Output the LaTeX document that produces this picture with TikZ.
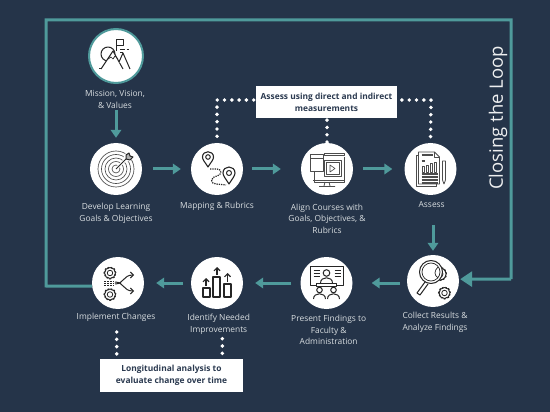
\documentclass[tikz,border=0pt]{standalone}
\usepackage{fontspec}
\setmainfont{Open Sans}
\usetikzlibrary{arrows.meta}
\definecolor{navy}{HTML}{253449}
\definecolor{loopteal}{HTML}{4F9A9B}
\definecolor{labelgrey}{HTML}{D8DDE0}
\definecolor{boxtext}{HTML}{2B3A50}
\tikzset{
    circ/.style={circle,fill=white,minimum size=52pt,inner sep=0pt},
    steptext/.style={align=center,text=labelgrey,font=\fontsize{8.4}{11.7}\selectfont},
    notebox/.style={fill=white,text=boxtext,align=center,inner sep=0pt,minimum height=32.5pt,font=\bfseries\fontsize{8.4}{11.7}\selectfont},
    tealarrow/.style={-{Triangle[length=8pt,width=10.5pt]},draw=loopteal,line width=3pt},
    loopline/.style={draw=loopteal,line width=3pt},
    dotline/.style={draw=white,line width=3.9pt,line cap=round,dash pattern=on 0pt off 7.3pt},
    icon/.style={draw=black!85,line width=1pt,line join=round},
    thinicon/.style={draw=black!70,line width=.65pt,line join=round}
}
\newcommand{\gearmark}[3]{
    \draw[black!85,line width=2pt,dash pattern=on 1.6pt off 1.5pt] (#1,#2) circle (#3pt);
    \draw[icon,fill=white] (#1,#2) circle (#3pt);
    \draw[icon,line width=.8pt] (#1,#2) circle (#3pt*.5);
}
\begin{document}
\begin{tikzpicture}[x=1pt,y=-1pt]
    \fill[navy] (0,0) rectangle (550,412);
    \useasboundingbox (0,0) rectangle (550,412);

    \draw node (mission) at (116,56) [circ,minimum size=54pt,draw=loopteal,line width=2pt] {};
    \draw node (develop) at (116,169) [circ] {};
    \draw node (mapping) at (217,169) [circ] {};
    \draw node (align) at (327,169) [circ] {};
    \draw node (assess) at (430.5,169) [circ] {};
    \draw node (collect) at (433,281) [circ] {};
    \draw node (present) at (326.5,283) [circ] {};
    \draw node (identify) at (217,283) [circ] {};
    \draw node (implement) at (118,283) [circ] {};

    \draw node (missiontext) at (115,99.5) [steptext] {Mission, Vision,\\\& Values};
    \draw node (developtext) at (116,213) [steptext] {Develop Learning\\Goals \& Objectives};
    \draw node (mappingtext) at (217,206) [steptext] {Mapping \& Rubrics};
    \draw node (aligntext) at (327,218.7) [steptext] {Align Courses with\\Goals, Objectives, \&\\Rubrics};
    \draw node (assesstext) at (431.7,204.5) [steptext] {Assess};
    \draw node (collecttext) at (435,322) [steptext] {Collect Results \&\\Analyze Findings};
    \draw node (presenttext) at (328.7,330) [steptext] {Present Findings to\\Faculty \&\\Administration};
    \draw node (identifytext) at (218.7,324) [steptext] {Identify Needed\\Improvements};
    \draw node (implementtext) at (116,317.7) [steptext] {Implement Changes};

    \draw node (measurebox) at (326.5,102.2) [notebox,minimum width=141pt] {Assess using direct and indirect\\measurements};
    \draw node (longbox) at (171.5,375.6) [notebox,minimum width=143pt] {Longitudinal analysis to\\evaluate change over time};

    \coordinate (loopa) at (46,286);
    \coordinate (loopb) at (46,20);
    \coordinate (loopc) at (511,20);
    \coordinate (loopd) at (511,279);
    \coordinate (dotleft) at (217,100);
    \coordinate (dotright) at (431,100);
    \coordinate (dotimplement) at (116.7,332);
    \coordinate (dotidentify) at (222.3,338.7);

    \draw[loopline,line join=miter] (implement.187) -- (loopa) -- (loopb) -- (loopc) -- (loopd);
    \draw[-{Triangle[length=12pt,width=15pt]},draw=loopteal,line width=3pt,shorten >=1pt] (loopd) -- (collect.4);

    \draw node (closing) at (498,118) [rotate=90,text=white!92!navy,font=\fontsize{18.5}{20}\selectfont] {Closing the Loop};

    \draw[tealarrow,shorten <=26pt,shorten >=5pt] (mission.south) to (develop.north);
    \draw[tealarrow,shorten <=11pt,shorten >=10pt] (develop.east) to (mapping.west);
    \draw[tealarrow,shorten <=9pt,shorten >=20pt] (mapping.east) to (align.west);
    \draw[tealarrow,shorten <=10pt,shorten >=12pt] (align.east) to (assess.west);
    \draw[tealarrow,shorten <=14pt,shorten >=4pt] (assesstext.south -| collect.north) to (collect.north);
    \draw[tealarrow,shorten <=7pt,shorten >=19pt] (collect.west |- present.east) to (present.east);
    \draw[tealarrow,shorten <=9pt,shorten >=12pt] (present.west) to (identify.east);
    \draw[tealarrow,shorten <=8pt,shorten >=12pt] (identify.west) to (implement.east);

    \draw[dotline,shorten <=6.5pt] (mapping.north) -- (dotleft) -- (measurebox.west |- dotleft);
    \draw[dotline,shorten <=1.5pt] (measurebox.south -| align.north) -- (align.north);
    \draw[dotline,shorten <=4.7pt] (measurebox.east |- dotright) -- (dotright) -- (assess.north);
    \draw[dotline] (dotimplement) -- (dotimplement |- longbox.north);
    \draw[dotline] (dotidentify) -- (dotidentify |- longbox.north);

    % mission icon
    \begin{scope}[shift={(mission)}]
        \draw[icon] (-17,13) -- (15,13);
        \draw[icon] (-8,-2) circle (7pt);
        \fill[white] (-12,13) -- (-3,-4) -- (4,8) -- (8,-3) -- (15,13) -- cycle;
        \draw[icon,fill=white] (-15,13) -- (-3,-5) -- (7,13);
        \draw[icon,fill=white] (3,6) -- (7,-3) -- (14,13);
        \draw[icon,line width=.7pt] (-8,3) -- (-5,1) -- (-3,3) -- (-1,0) -- (2,3);
        \draw[icon] (0,-5) -- (0,-16) -- (7,-16) -- (7,-10) -- (0,-10);
        \draw[icon,line width=.7pt] (4,-7) -- (9,-7) (10.5,-7) -- (13,-7) (4,-4) -- (7,-4);
    \end{scope}

    % target icon
    \begin{scope}[shift={(develop)}]
        \foreach \ringsize in {18,14.5,11,7.5,4}
            \draw[thinicon] (0,0) circle (\ringsize pt);
        \draw[white,line width=3pt] (1,-1) -- (13,-13);
        \fill[white] (12,-12) circle (4.5pt);
        \draw[icon] (0,0) -- (10,-10);
        \draw[icon,fill=black!30] (10,-10) -- (10,-14) -- (13,-16) -- (14,-13) -- (17,-12) -- (14,-9) -- cycle;
    \end{scope}

    % mapping icon
    \begin{scope}[shift={(mapping)}]
        \draw[icon,line width=1.1pt] (-9,-2) .. controls (-12,-7) and (-14.5,-9) .. (-14.5,-12) .. controls (-14.5,-19) and (-3.5,-19) .. (-3.5,-12) .. controls (-3.5,-9) and (-6,-7) .. (-9,-2) -- cycle;
        \draw[icon] (-9,-12) circle (2.3pt);
        \draw[icon,line width=1.1pt] (12,15) .. controls (9,10) and (6,7) .. (6,4) .. controls (6,-4) and (18,-4) .. (18,4) .. controls (18,7) and (15,10) .. (12,15) -- cycle;
        \draw[icon] (12,4) circle (2.5pt);
        \draw[icon,line width=1.2pt,dash pattern=on 1.3pt off 1pt] (-7,0) -- (0,0) .. controls (5,0) and (5,6) .. (0,7) .. controls (-7,8) and (-7,15) .. (-1,15) -- (9,16);
    \end{scope}

    % align icon
    \begin{scope}[shift={(align)}]
        \draw[thinicon,line width=.8pt] (-13,2) -- (-13,13) -- (17,13) -- (17,-12);
        \draw[thinicon,line width=.8pt] (-14,11) -- (17,11);
        \draw[thinicon,line width=.8pt] (-17,-15) rectangle (-4,2);
        \draw[thinicon,line width=.8pt] (-17,-11) -- (-4,-11);
        \draw[thinicon,line width=.8pt] (-3,-16) rectangle (17,-14);
        \draw[thinicon,line width=.8pt] (-3,-9) rectangle (14,7);
        \draw[thinicon,line width=.8pt] (-1,-7) rectangle (12,5);
        \draw[thinicon] (3,-4) -- (3,3) -- (8,-.5) -- cycle;
        \draw[thinicon,line width=.8pt] (-2,13) -- (-3,17) (2,13) -- (3,17) (-8,17.5) -- (8,17.5);
    \end{scope}

    % assess icon
    \begin{scope}[shift={(assess)}]
        \draw[thinicon,line width=.8pt] (-12,-14) -- (-14,-14) -- (-14,17) -- (6,17) -- (6,15);
        \draw[thinicon,line width=.8pt,fill=white] (-12,-17) -- (4,-17) -- (9,-12) -- (9,15) -- (-12,15) -- cycle;
        \draw[thinicon] (4,-17) -- (4,-12) -- (9,-12);
        \draw[thinicon,line width=1.2pt] (-9,-14) -- (2,-14) (-9,-8) -- (-6,-8);
        \foreach \barx/\bartop in {-7/-3,-3/-4,1/-6,5/-7}
            \draw[thinicon,line width=.8pt] (\barx-1.3,\bartop) rectangle (\barx+1.3,3);
        \foreach \liney in {5,8,11,14}
            \draw[thinicon,line width=1.2pt] (-9,\liney) -- (7,\liney);
        \draw[thinicon,line width=.8pt] (12,-8) -- (15,-8) -- (15,11) -- (13.5,15) -- (12,11) -- cycle;
    \end{scope}

    % collect icon
    \begin{scope}[shift={(collect)}]
        \gearmark{7}{-7}{6}
        \draw[icon,fill=white] (-2,-9) circle (11.5pt);
        \draw[icon,line width=.7pt] (-2,-9) circle (9pt);
        \draw[icon,line width=.7pt] (5,-14) .. controls (1,-10) and (1,-6) .. (5,-3);
        \draw[icon] (-8,1) -- (-16,12) -- (-13,14) -- (-5,3);
        \gearmark{11.5}{12}{5.5}
    \end{scope}

    % present icon
    \begin{scope}[shift={(present)}]
        \draw[icon] (-10,2) -- (-16,2) -- (-16,-17) -- (17,-17) -- (17,2) -- (10,2);
        \draw[icon] (0,-10) circle (3.3pt);
        \draw[icon] (-6,0) .. controls (-6,-7) and (6,-7) .. (6,0);
        \foreach \liney in {-13,-10,-7}{
            \draw[icon,line width=.7pt] (-13,\liney) -- (-7,\liney);
            \draw[icon,line width=.7pt] (8,\liney) -- (14,\liney);
        }
        \draw[icon] (-10,0) rectangle (10,3);
        \draw[icon] (-7,7) circle (2.8pt) (7,7) circle (2.8pt);
        \draw[icon] (-13,16) .. controls (-13,9) and (-1,9) .. (-1,16);
        \draw[icon] (1,16) .. controls (1,9) and (13,9) .. (13,16);
    \end{scope}

    % identify icon
    \begin{scope}[shift={(identify)}]
        \draw[icon,line width=1.1pt] (-14,5) rectangle (-7,14);
        \draw[icon,line width=1.1pt] (-4,-6) rectangle (3,14);
        \draw[icon,line width=1.1pt] (7,1) rectangle (14,14);
        \draw[icon,line width=1.1pt,-{Straight Barb[length=3pt,width=6pt]}] (-11,3) -- (-11,-5);
        \draw[icon,line width=1.1pt,-{Straight Barb[length=3pt,width=6pt]}] (0,-8) -- (0,-16);
        \draw[icon,line width=1.1pt,-{Straight Barb[length=3pt,width=6pt]}] (10.5,-1) -- (10.5,-10);
    \end{scope}

    % implement icon
    \begin{scope}[shift={(implement)}]
        \gearmark{-8}{-10}{5.5}
        \gearmark{-8}{11.5}{5.5}
        \draw[icon,-{Straight Barb[length=3pt,width=6pt]}] (-3,1) .. controls (6,1) and (5,-8) .. (16,-8);
        \draw[icon,-{Straight Barb[length=3pt,width=6pt]}] (-3,-1) .. controls (6,-1) and (5,8) .. (16,8);
        \draw[icon,line width=.6pt,dash pattern=on 2pt off 1pt] (-14,-2) -- (-4,-2) (-14,0) -- (-4,0) (-14,2) -- (-4,2);
    \end{scope}
\end{tikzpicture}
\end{document}
